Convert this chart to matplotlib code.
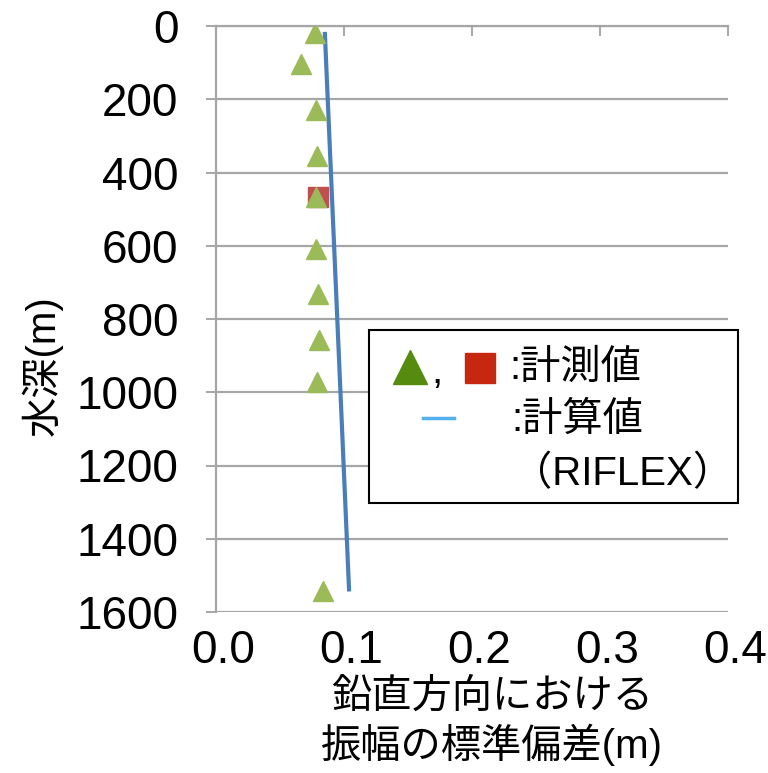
import matplotlib
matplotlib.use("Agg")
import matplotlib.pyplot as plt
from matplotlib.patches import Rectangle
from matplotlib.lines import Line2D
from matplotlib.transforms import ScaledTranslation

plt.rcParams['font.family'] = ['Liberation Sans', 'Noto Sans CJK JP']

# Measured standard deviation of vertical amplitude (triangles)
meas_depth = [19, 105, 229, 354, 466, 610, 731, 856, 971, 1542]
meas_std = [0.0773, 0.0664, 0.0781, 0.0789, 0.0781, 0.0781, 0.0797, 0.0805, 0.0789, 0.0836]

# Additional measured point (square)
sq_depth = [466]
sq_std = [0.0795]

# RIFLEX calculation
calc_depth = [16, 1544]
calc_std = [0.085, 0.104]

x_ticks = [0.0, 0.1, 0.2, 0.3, 0.4]
y_ticks = [0, 200, 400, 600, 800, 1000, 1200, 1400, 1600]

W, H = 768, 773
fig = plt.figure(figsize=(W / 100, H / 100), dpi=100)
ax = fig.add_axes([216 / W, 1 - 612 / H, 512 / W, 586 / H])

grid_c = '#a6a6a6'
ax.set_xlim(0, 0.4)
ax.set_ylim(1600, 0)
ax.set_xticks(x_ticks)
ax.set_yticks(y_ticks)
ax.set_xticklabels([f"{v:.1f}" for v in x_ticks])
ax.grid(axis='y', color=grid_c, linewidth=1.6)
ax.set_axisbelow(True)

for s in ['right', 'bottom']:
    ax.spines[s].set_visible(False)
for s in ['left', 'top']:
    ax.spines[s].set_color(grid_c)
    ax.spines[s].set_linewidth(1.6)

ax.tick_params(axis='x', top=True, bottom=False, labeltop=False, labelbottom=True,
               direction='in', length=7, width=1.4, color=grid_c, labelsize=33, pad=12)
ax.tick_params(axis='y', direction='out', length=7, width=1.4, color=grid_c,
               labelsize=33, pad=20)
for lbl in ax.get_xticklabels():
    lbl.set_transform(lbl.get_transform() + ScaledTranslation(7 / 100, 0, fig.dpi_scale_trans))

ax.plot(calc_std, calc_depth, color='#4a7ebb', linewidth=3.0, solid_capstyle='butt', zorder=3)
ax.plot(sq_std, sq_depth, linestyle='none', marker='s', markersize=15,
        color='#c0504d', zorder=4)
ax.plot(meas_std, meas_depth, linestyle='none', marker='^', markersize=14.5,
        color='#9bbb59', markeredgecolor='#9bbb59', zorder=5)

# Axis titles
fig.text(42 / W, 1 - 366 / H, '水深(m)', rotation=90, fontsize=29,
         ha='center', va='center')
fig.text(492 / W, 1 - 697 / H, '鉛直方向における', fontsize=29, ha='center', va='center')
fig.text(492 / W, 1 - 745 / H, '振幅の標準偏差(m)', fontsize=29, ha='center', va='center')

# Legend box
fig.add_artist(Rectangle((369 / W, 1 - 503 / H), (738 - 369) / W, (503 - 330) / H,
                         transform=fig.transFigure, facecolor='white',
                         edgecolor='black', linewidth=1.5, zorder=10))
fig.add_artist(Line2D([410 / W], [1 - 367 / H], transform=fig.transFigure, marker='^',
                      markersize=24, color='#558b0f', linestyle='none', zorder=11))
fig.text(437 / W, 1 - 372 / H, ',', fontsize=29, ha='center', va='center', zorder=11)
fig.add_artist(Line2D([480 / W], [1 - 368 / H], transform=fig.transFigure, marker='s',
                      markersize=22, color='#c5280f', linestyle='none', zorder=11))
fig.text(509 / W, 1 - 368 / H, ':計測値', fontsize=29, ha='left', va='center', zorder=11)
fig.add_artist(Line2D([423 / W, 454 / W], [1 - 418 / H, 1 - 418 / H],
                      transform=fig.transFigure, color='#55b0f0', linewidth=2.5, zorder=11))
fig.text(511 / W, 1 - 420 / H, ':計算値', fontsize=29, ha='left', va='center', zorder=11)
fig.text(733 / W, 1 - 474 / H, '（RIFLEX）', fontsize=29, ha='right', va='center', zorder=11)

fig.savefig('out.png', dpi=100)
